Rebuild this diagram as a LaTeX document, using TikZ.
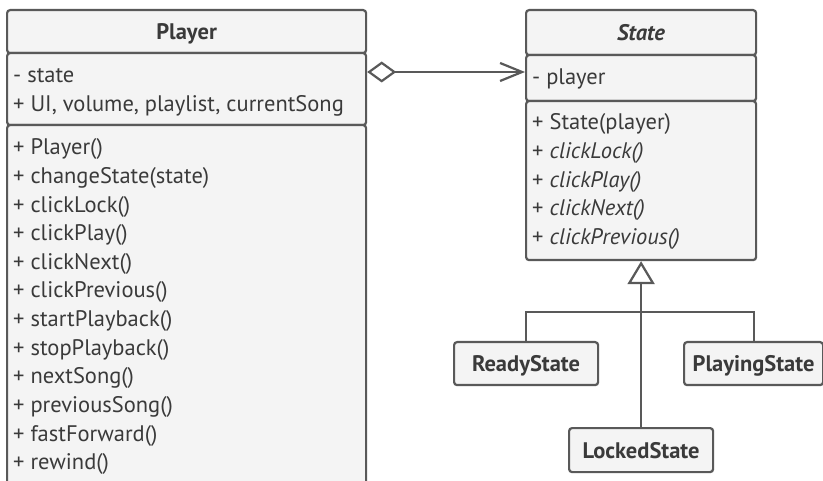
\documentclass[tikz,border=0pt]{standalone}
\usepackage{fontspec}
\setmainfont{PT Sans}
\usetikzlibrary{arrows.meta}
\definecolor{umlfill}{HTML}{F4F4F4}
\definecolor{umlline}{HTML}{595959}
\definecolor{umltext}{HTML}{3A3A3A}

\begin{document}
\begin{tikzpicture}[x=1pt, y=-1pt, font=\fontsize{22.5}{28.6}\selectfont, text=umltext,
    umlbox/.style={draw=umlline, fill=umlfill, line width=2.2pt, rounded corners=3pt,
        inner sep=0pt, anchor=north west},
    umlhead/.style={umlbox, font=\fontsize{22.5}{26}\selectfont\bfseries,
        text height=16pt, text depth=0pt},
    member/.style={anchor=base west, inner sep=0pt},
    link/.style={draw=umlline, line width=2.2pt}]
    \clip (0,0) rectangle (823,481);
    \fill[white] (0,0) rectangle (823,481);
    % PLAYER
    \node[umlhead, minimum width=359, minimum height=43] (ph) at (6,9) {Player};
    \node[umlbox, minimum width=359, minimum height=72] (pa) at (6,52) {};
    \node[umlbox, minimum width=359, minimum height=400] (pm) at (6,124) {};
    \foreach \m [count=\i] in {- state, {+ UI, volume, playlist, currentSong}}
        \node[member] (pa\i) at (13, 54.4+28.6*\i) {\m};
    \foreach \m [count=\i] in {+ Player(), + changeState(state), + clickLock(), + clickPlay(),
        + clickNext(), + clickPrevious(), + startPlayback(), + stopPlayback(), + nextSong(),
        + previousSong(), + fastForward(), + rewind()}
        \node[member] (pm\i) at (13, 126.4+28.6*\i) {\m};
    % STATE
    \node[umlhead, minimum width=230, minimum height=45] (sh) at (525,9) {\textit{State}};
    \node[umlbox, minimum width=230, minimum height=46] (sa) at (525,54) {};
    \node[umlbox, minimum width=230, minimum height=159] (sm) at (525,100) {};
    \node[member] (sa1) at (532, 85) {- player};
    \foreach \m [count=\i] in {+ State(player), + \textit{clickLock()}, + \textit{clickPlay()},
        + \textit{clickNext()}, + \textit{clickPrevious()}}
        \node[member] (sm\i) at (532, 101.4+28.6*\i) {\m};
    % SUBCLASSES
    \node[umlhead, minimum width=144, minimum height=43] (ready) at (453,341) {ReadyState};
    \node[umlhead, minimum width=139, minimum height=43] (playing) at (683,341) {PlayingState};
    \node[umlhead, minimum width=144, minimum height=44] (locked) at (568,427) {LockedState};
    % LINKS
    \coordinate (agg) at (445,72);
    \coordinate (fork) at (640,312);
    \draw[link, {Diamond[open, length=29pt, width=21pt]}-{Straight Barb[length=22pt, width=18pt]}]
        (pa.east |- agg) -- (sa.west |- agg);
    \draw[link, -{Triangle[length=23pt, width=27pt, fill=white]}] (locked.north) -- (sm.south);
    \draw[link] (ready.north) |- (locked.north |- fork) -| (playing.north);
\end{tikzpicture}
\end{document}
